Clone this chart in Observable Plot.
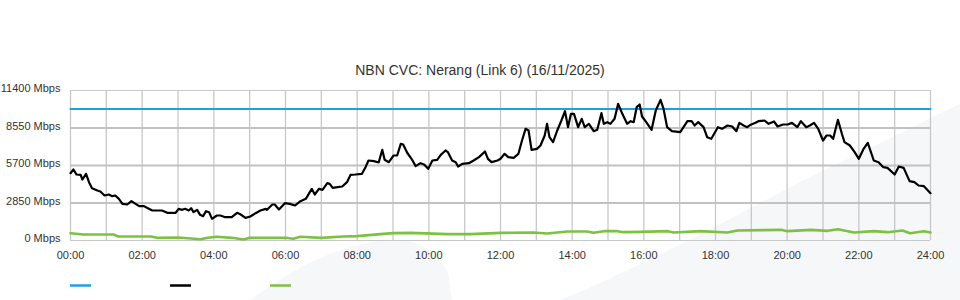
<!DOCTYPE html>
<html>
<head>
<meta charset="utf-8">
<script src="https://cdn.jsdelivr.net/npm/d3@7"></script>
<script src="https://cdn.jsdelivr.net/npm/@observablehq/plot@0.6"></script>
<style>
  html, body { margin: 0; padding: 0; }
  body { width: 960px; height: 300px; overflow: hidden; background: #fff; position: relative;
         font-family: "Liberation Sans", Arial, sans-serif; }
  #bg { position: absolute; left: 0; top: 0; }
  #title { position: absolute; top: 62px; left: 0; width: 960px; text-align: center;
           font-size: 14px; line-height: 16px; color: #333; }
  #chart { position: absolute; left: 0; top: 80px; }
  #legend { position: absolute; left: 0; top: 276px; }
</style>
</head>
<body>
<svg id="bg" width="960" height="300">
  <path d="M250,300 C275,282 300,266 325,256 C350,246 375,240 395,240 C420,241 435,250 448,272 L452,300 Z" fill="#f6f7f9"/>
  <path d="M560,300 C650,264 760,202 820,172 C880,144 930,118 960,104 L960,300 Z" fill="#f6f7f9"/>
</svg>
<div id="title">NBN CVC: Nerang (Link 6) (16/11/2025)</div>
<div id="chart"></div>
<div id="legend"></div>
<script>
// ---- Data ----
const capacityTimes = ["00:00", "24:00"];
const capacityMbps  = [10000, 10000];

const trafficTimes = [
  "00:00","00:05","00:10","00:17","00:20","00:26","00:31","00:36","00:45","00:50",
  "00:57","01:04","01:10","01:15","01:21","01:27","01:35","01:42","01:49","01:55",
  "02:03","02:08","02:17","02:33","02:42","02:56","03:01","03:07","03:12","03:18",
  "03:22","03:26","03:32","03:37","03:42","03:47","03:52","03:57","04:05","04:11",
  "04:19","04:30","04:39","04:45","04:53","05:01","05:10","05:18","05:27","05:29",
  "05:38","05:42","05:49","05:59","06:07","06:16","06:25","06:34","06:39","06:44",
  "06:49","06:56","07:02","07:10","07:14","07:19","07:27","07:35","07:43","07:49",
  "07:57","08:08","08:14","08:19","08:28","08:36","08:42","08:46","08:53","09:01",
  "09:07","09:13","09:17","09:24","09:31","09:38","09:46","09:52","09:59","10:06",
  "10:14","10:20","10:28","10:32","10:39","10:45","10:49","10:56","11:07","11:15",
  "11:24","11:34","11:39","11:45","11:55","12:00","12:07","12:13","12:22","12:30",
  "12:36","12:42","12:47","12:52","13:01","13:07","13:14","13:18","13:22","13:28",
  "13:35","13:42","13:48","13:53","13:58","14:03","14:10","14:16","14:21","14:28",
  "14:36","14:42","14:49","14:53","14:59","15:04","15:11","15:17","15:24","15:32",
  "15:38","15:43","15:48","15:53","15:57","16:04","16:13","16:20","16:28","16:33",
  "16:39","16:47","17:01","17:13","17:20","17:25","17:31","17:40","17:46","17:53",
  "18:04","18:11","18:20","18:28","18:35","18:40","18:47","18:53","18:59","19:07",
  "19:12","19:22","19:29","19:38","19:44","19:53","20:01","20:08","20:17","20:23",
  "20:32","20:38","20:45","20:52","21:00","21:06","21:12","21:17","21:25","21:32",
  "21:36","21:45","21:53","22:00","22:08","22:15","22:25","22:33","22:41","22:48",
  "23:00","23:07","23:15","23:25","23:33","23:40","23:49","24:00"
];
const trafficMbps = [
  5115,5396,5016,4990,4636,5066,4433,3977,3800,3724,
  3420,3496,3369,3420,3167,2787,2736,2990,2787,2610,
  2610,2483,2280,2280,2103,2103,2407,2331,2407,2280,
  2457,2153,2331,1950,1849,2229,2153,1646,1900,1900,
  1773,1773,2103,1976,1722,1824,2077,2280,2407,2331,
  2736,2736,2356,2837,2787,2660,2990,3167,3547,3927,
  3496,3927,3851,4357,4306,4002,4053,4104,4433,4990,
  5016,5066,5573,6080,6029,5928,6891,6131,5953,6460,
  6460,7347,7296,6650,6207,5650,5877,5776,5446,6080,
  6131,6511,6840,6714,6080,5953,5624,5826,5877,6080,
  6333,6764,6207,5953,6080,6207,6587,6333,6283,6587,
  7600,8487,8360,6891,6967,7220,7980,8866,7853,7473,
  8360,9120,9829,8613,9626,9626,8613,9247,8613,8866,
  8309,8411,9677,8866,8993,8866,9247,10387,9626,8866,
  9069,8993,10133,10336,9424,8993,8411,9880,10691,10006,
  8613,8309,8233,9069,9069,8740,8993,8613,7853,7727,
  8613,8487,8740,8664,8309,8943,8740,8613,8800,8943,
  9069,9120,8866,9044,8664,8816,8816,8943,8613,9069,
  8613,8740,8943,8487,7600,7980,7980,7727,9170,8056,
  7473,7220,6714,6207,6967,7423,6080,5953,5573,5522,
  5016,5624,5522,4509,4433,4180,4129,3600
];

const uploadTimes = [
  "00:00","00:22","01:12","01:20","02:15","02:25","03:00","03:38","03:50","04:05",
  "04:30","04:50","05:00","06:00","06:13","06:25","07:00","07:37","08:00","08:44",
  "09:01","09:30","10:31","11:10","12:00","12:55","13:18","13:52","14:25","14:36",
  "14:53","15:16","15:26","15:54","16:40","16:50","17:35","18:20","18:37","19:50",
  "20:00","20:40","21:08","21:25","21:52","22:25","22:48","23:13","23:26","23:49",
  "24:00"
];
const uploadMbps = [
  555,456,456,304,304,203,228,100,203,280,
  203,76,203,203,127,280,203,304,330,506,
  557,582,481,481,582,608,532,684,684,582,
  709,709,633,658,709,608,709,608,760,810,
  709,810,734,861,608,709,633,760,557,709,
  608
];

const yTicks = [0, 2850, 5700, 8550, 11400];
const xTicks = [0, 2, 4, 6, 8, 10, 12, 14, 16, 18, 20, 22, 24];
const hourGrid = [0,1,2,3,4,5,6,7,8,9,10,11,12,13,14,15,16,17,18,19,20,21,22,23,24];

// ---- Build tables ----
const toHours = s => { const [h, m] = s.split(":").map(Number); return h + m / 60; };
const capacity = capacityTimes.map((t, i) => ({ t: toHours(t), v: capacityMbps[i] }));
const traffic  = trafficTimes.map((t, i) => ({ t: toHours(t), v: trafficMbps[i] }));
const upload   = uploadTimes.map((t, i) => ({ t: toHours(t), v: uploadMbps[i] }));

const chart = Plot.plot({
  width: 960,
  height: 185,
  marginTop: 10,
  marginBottom: 25,
  marginLeft: 70,
  marginRight: 30,
  style: { background: "transparent", fontFamily: "'Liberation Sans', Arial, sans-serif", fontSize: "11px", color: "#333" },
  x: { domain: [0, 24], label: null },
  y: { domain: [0, 11400], label: null },
  marks: [
    Plot.ruleX(hourGrid, { stroke: "#c8c8c8", strokeWidth: 1.3 }),
    Plot.ruleY(yTicks.filter(v => v > 0 && v < 11400), { stroke: "#c2c2c2", strokeWidth: 2 }),
    Plot.ruleY([0, 11400], { stroke: "#c8c8c8", strokeWidth: 1 }),
    Plot.axisX({ ticks: xTicks, tickFormat: h => String(h).padStart(2, "0") + ":00", tickSize: 0, tickPadding: 11, label: null }),
    Plot.axisY({ ticks: yTicks, tickFormat: d => d + " Mbps", tickSize: 0, tickPadding: 10, dy: -2, label: null }),
    Plot.line(upload, { x: "t", y: "v", stroke: "#7dc142", strokeWidth: 2.6, strokeLinejoin: "round" }),
    Plot.line(capacity, { x: "t", y: "v", stroke: "#1ba1e2", strokeWidth: 2 }),
    Plot.line(traffic, { x: "t", y: "v", stroke: "#000", strokeWidth: 2.2, strokeLinejoin: "round" })
  ]
});
document.getElementById("chart").appendChild(chart);

// ---- Legend swatches (no visible labels in the reference) ----
const legendItems = [
  { name: "Capacity", color: "#1ba1e2", x: 70 },
  { name: "Download", color: "#000", x: 170 },
  { name: "Upload", color: "#7dc142", x: 270 }
];
const legend = d3.select("#legend").append("svg").attr("width", 960).attr("height", 20);
legend.selectAll("line").data(legendItems).join("line")
  .attr("x1", d => d.x).attr("x2", d => d.x + 21)
  .attr("y1", 9.5).attr("y2", 9.5)
  .attr("stroke", d => d.color).attr("stroke-width", 2.5);
</script>
</body>
</html>
